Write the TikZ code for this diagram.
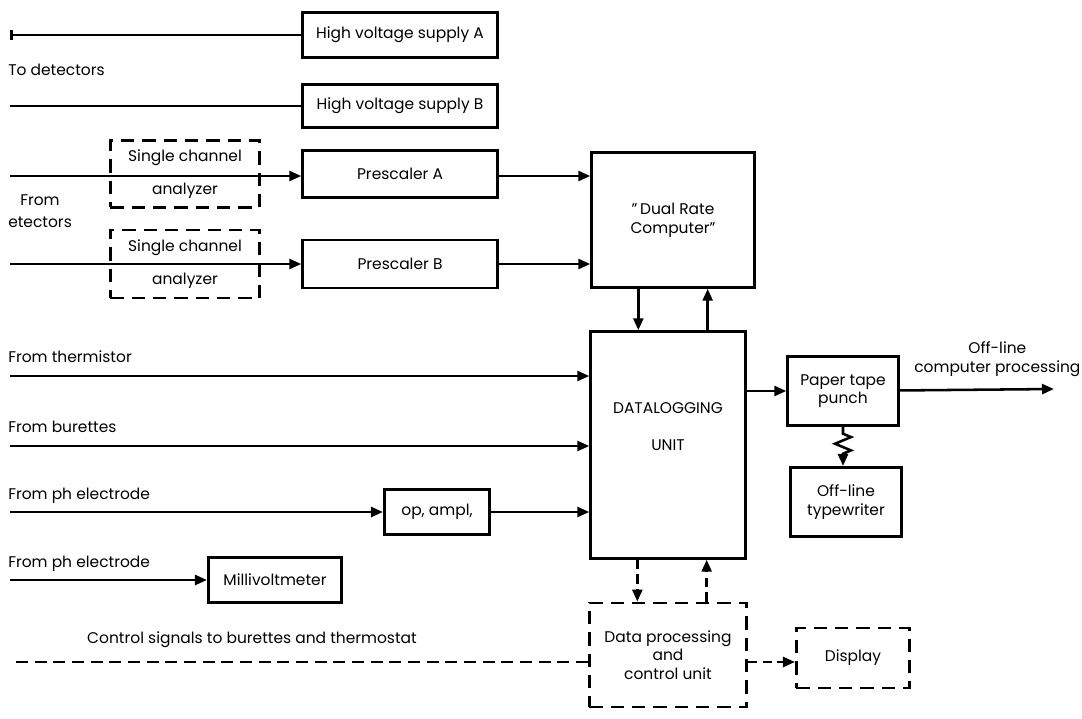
\documentclass[tikz,border=0pt]{standalone}
\usepackage{fontspec}
\setmainfont{Poppins}
\usetikzlibrary{arrows.meta,positioning,decorations.pathmorphing}

\tikzset{
  unitbox/.style={rectangle,draw,line width=2.1pt,align=center,inner sep=2pt},
  dashbox/.style={unitbox,dash pattern=on 10pt off 6pt},
  sig/.style={line width=1.9pt},
  arr/.style={sig,-{Triangle[length=9pt,width=7.5pt]}},
  dasharr/.style={arr,dash pattern=on 7pt off 4pt},
  lbl/.style={anchor=west,inner sep=0pt}
}

\begin{document}
\begin{tikzpicture}[x=0.75pt,y=-0.75pt,font=\fontsize{11.6}{14}\selectfont]
  \useasboundingbox (0,0) rectangle (1082,718);

  % supplies and counting chain
  \node[unitbox,minimum width=146pt,minimum height=34pt] (hva) at (400,35) {High voltage supply A};
  \node[unitbox,minimum width=146pt,minimum height=32pt] (hvb) at (400,106) {High voltage supply B};
  \node[dashbox,minimum width=112pt,minimum height=50pt] (sca) at (185,174) {Single channel\\[11pt]analyzer};
  \node[unitbox,minimum width=146pt,minimum height=35pt] (psa) at (400,174) {Prescaler A};
  \node[dashbox,minimum width=112pt,minimum height=51pt] (scb) at (185,264) {Single channel\\[11pt]analyzer};
  \node[unitbox,minimum width=146pt,minimum height=36pt] (psb) at (400,264) {Prescaler B};
  \node[unitbox,minimum width=122pt,minimum height=101pt] (drc) at (673,220) {"\,Dual Rate\\Computer"};

  % logging unit and its inputs
  \node[unitbox,minimum width=116pt,minimum height=170pt] (dlu) at (668,445) {DATALOGGING\\[14pt]UNIT\\[14pt]\mbox{}};
  \node[unitbox,minimum width=79pt,minimum height=34pt] (opa) at (437,512) {op, ampl,};
  \node[unitbox,minimum width=100pt,minimum height=34pt] (mvm) at (275,580) {Millivoltmeter};

  % outputs
  \node[unitbox,minimum width=83pt,minimum height=52pt] (ppt) at (843,391) {Paper tape\\punch};
  \node[unitbox,minimum width=83pt,minimum height=52pt] (otw) at (846,502) {Off-line\\typewriter};
  \node[dashbox,minimum width=118pt,minimum height=78pt] (dpc) at (668,655) {Data processing\\and\\control unit};
  \node[dashbox,minimum width=85pt,minimum height=45pt] (dsp) at (853,658) {Display};

  % free ends
  \coordinate (ha) at (10,35);
  \coordinate (hb) at (10,106);
  \coordinate (da) at (10,176);
  \coordinate (db) at (10,264);
  \coordinate (th) at (10,376);
  \coordinate (bu) at (10,446);
  \coordinate (pa) at (10,512);
  \coordinate (pb) at (10,580);
  \coordinate (cs) at (12,662);
  \coordinate (out) at (1054,389);

  % labels
  \node[lbl] (todet) at (8,70) {To detectors};
  \node[lbl] (from) at (20,200) {From};
  \node[lbl] (etec) at (8,222) {etectors};
  \node[lbl] (lth) at (8,357) {From thermistor};
  \node[lbl] (lbu) at (8,427) {From burettes};
  \node[lbl] (lpa) at (8,496) {From ph electrode};
  \node[lbl] (lpb) at (8,564) {From ph electrode};
  \node (lcs) at (252,640) {Control signals to burettes and thermostat};
  \node[align=center,anchor=east,inner sep=1pt] (offl) at (1082,359) {Off-line\\computer processing};

  % connections
  \draw[sig,{Bar[width=8pt]}-] (ha) -- (hva);
  \draw[sig] (hb) -- (hvb);
  \draw[arr] (da) -- (da -| psa.west);
  \draw[arr] (db) -- (db -| psb.west);
  \draw[arr] (psa.east |- da) -- (da -| drc.west);
  \draw[arr] (psb.east |- db) -- (db -| drc.west);
  \draw[arr] ([xshift=-26pt]drc.south) -- ([xshift=-26pt]drc.south |- dlu.north);
  \draw[arr] ([xshift=26pt]drc.south |- dlu.north) -- ([xshift=26pt]drc.south);
  \draw[arr] (th) -- (th -| dlu.west);
  \draw[arr] (bu) -- (bu -| dlu.west);
  \draw[arr] (pa) -- (opa);
  \draw[arr] (opa) -- (opa -| dlu.west);
  \draw[arr] (pb) -- (mvm);
  \draw[arr] (dlu.east |- ppt) -- (ppt);
  \draw[arr] (ppt) -- (out);
  \draw[arr,decoration={zigzag,segment length=10pt,amplitude=6pt,pre length=5pt,post length=9pt},
        decorate] (ppt.south) -- (ppt.south |- otw.north);
  \draw[dasharr] ([xshift=-23pt]dlu.south) -- ([xshift=-23pt]dlu.south |- dpc.north);
  \draw[dasharr] ([xshift=29pt]dlu.south |- dpc.north) -- ([xshift=29pt]dlu.south);
  \draw[dasharr] (dpc.east |- cs) -- (cs -| dsp.west);
  \draw[sig,dash pattern=on 9pt off 5pt] (dpc.west |- cs) -- (cs);

\end{tikzpicture}
\end{document}
